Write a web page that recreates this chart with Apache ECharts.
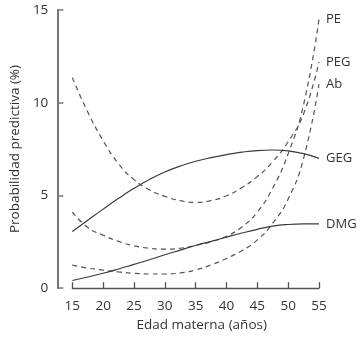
<!DOCTYPE html>
<html>
<head>
<meta charset="utf-8">
<script src="https://cdn.jsdelivr.net/npm/echarts@6/dist/echarts.min.js"></script>
<style>
  html, body { margin: 0; padding: 0; background: #fff; }
  #chart { width: 362px; height: 337px; }
</style>
</head>
<body>
<div id="chart"></div>
<script>
// edad materna (años)
var ages = [15, 17.5, 20, 22.5, 25, 27.5, 30, 32.5, 35, 37.5, 40, 42.5, 45, 47.5, 50, 52.5, 55];

// probabilidad predictiva (%)
var pe  = [4.1, 3.27, 2.85, 2.52, 2.28, 2.15, 2.1, 2.15, 2.3, 2.5, 2.8, 3.3, 4.1, 5.4, 7.25, 9.9, 14.5];
var peg = [11.35, 9.5, 7.95, 6.7, 5.85, 5.3, 4.95, 4.72, 4.62, 4.72, 4.98, 5.42, 6.02, 6.82, 7.9, 9.4, 12.2];
var ab  = [1.24, 1.08, 0.97, 0.87, 0.8, 0.76, 0.76, 0.82, 0.98, 1.25, 1.6, 2.02, 2.6, 3.5, 4.8, 7.0, 11.0];
var geg = [3.05, 3.66, 4.26, 4.84, 5.38, 5.86, 6.26, 6.58, 6.84, 7.04, 7.2, 7.33, 7.42, 7.45, 7.4, 7.25, 7.0];
var dmg = [0.41, 0.6, 0.8, 1.03, 1.28, 1.53, 1.8, 2.05, 2.3, 2.52, 2.75, 2.97, 3.17, 3.34, 3.43, 3.46, 3.46];

var seriesNames = ["PE", "PEG", "Ab", "GEG", "DMG"];
var seriesData = [pe, peg, ab, geg, dmg];
var dashed = [true, true, true, false, false];

var font = "'Open Sans', 'DejaVu Sans', sans-serif";

function pairs(vals) {
  return ages.map(function (a, i) { return [a, vals[i]]; });
}

var chart = echarts.init(document.getElementById("chart"));

var series = seriesNames.map(function (name, k) {
  return {
    name: name,
    type: "line",
    data: pairs(seriesData[k]),
    smooth: true,
    symbol: "none",
    clip: false,
    lineStyle: {
      color: dashed[k] ? "#555" : "#3a3a3a",
      width: 1.2,
      type: dashed[k] ? [5, 4] : "solid"
    },
    endLabel: {
      show: true,
      formatter: name,
      distance: 7,
      color: "#333",
      fontFamily: font,
      fontSize: 13
    },
    silent: true
  };
});

var option = {
  animation: false,
  backgroundColor: "#fff",
  grid: { left: 59, right: 43, top: 10, bottom: 48 },
  xAxis: {
    type: "value",
    min: 15,
    max: 55,
    interval: 5,
    offset: 7,
    name: "Edad materna (años)",
    nameLocation: "middle",
    nameGap: 17,
    nameTextStyle: { color: "#333", fontFamily: font, fontSize: 13.5, padding: [0, 0, 0, 12] },
    splitLine: { show: false },
    axisLine: { lineStyle: { color: "#555", width: 1.3 } },
    axisTick: { inside: true, length: 6, lineStyle: { color: "#555", width: 1.3 } },
    axisLabel: { color: "#333", fontFamily: font, fontSize: 13.5, margin: 4 }
  },
  yAxis: {
    type: "value",
    min: 0,
    max: 15,
    interval: 5,
    offset: 15,
    name: "Probabilidad predictiva (%)",
    nameLocation: "middle",
    nameGap: 21,
    nameTextStyle: { color: "#333", fontFamily: font, fontSize: 13.5 },
    splitLine: { show: false },
    axisLine: { show: true, lineStyle: { color: "#777", width: 2 } },
    axisTick: { show: true, inside: true, length: 6, lineStyle: { color: "#777", width: 1.5 } },
    axisLabel: { color: "#333", fontFamily: font, fontSize: 13.5, margin: 9 }
  },
  series: series
};

chart.setOption(option);
</script>
</body>
</html>
